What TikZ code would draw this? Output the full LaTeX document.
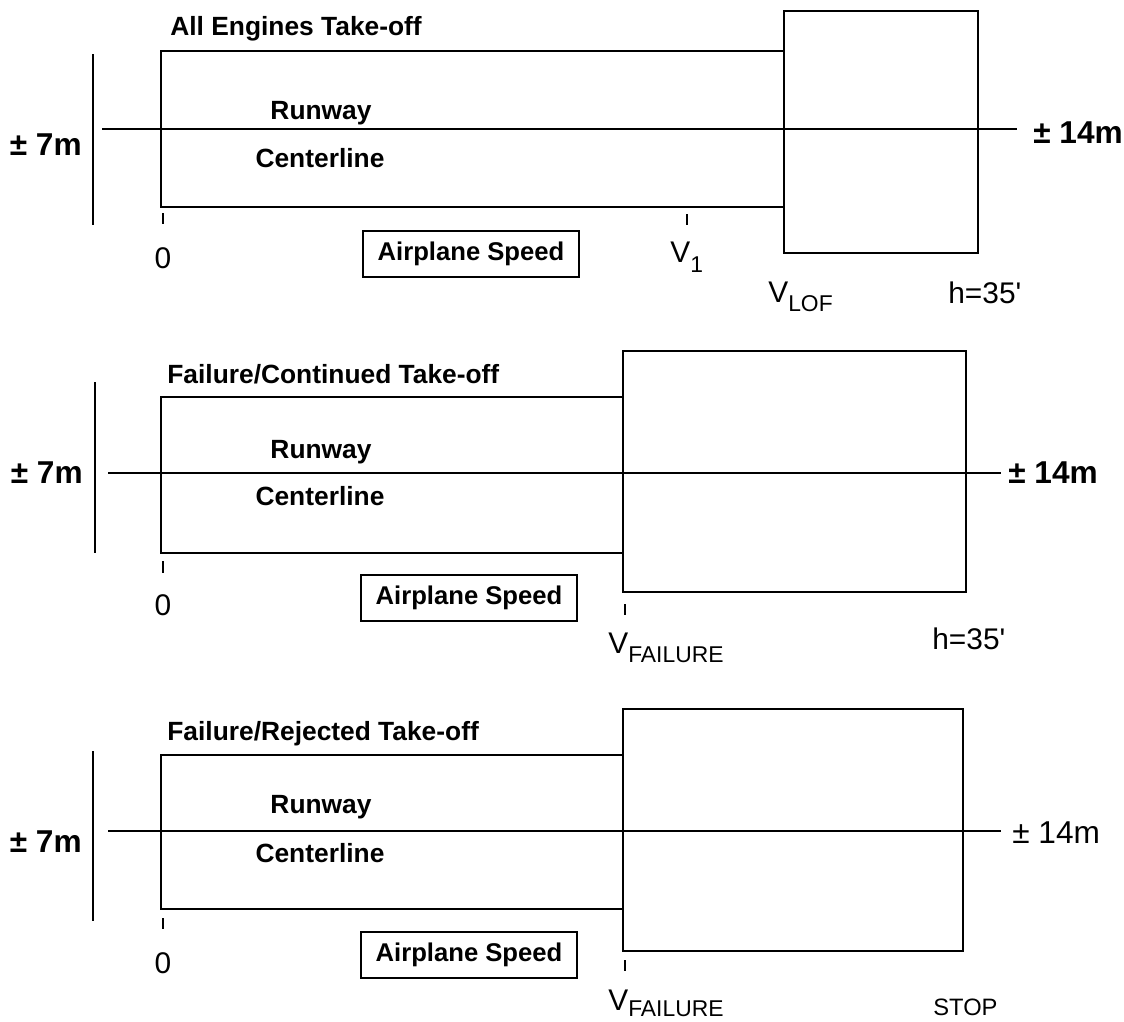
\documentclass[tikz,border=0pt]{standalone}
\usepackage{fontspec}
\setmainfont{Liberation Sans}[Ligatures=TeXOff]
\usetikzlibrary{positioning}
\newcommand{\Vsub}[2][5.5pt]{V\raisebox{-#1}{\fontsize{13}{13}\selectfont #2}}
\tikzset{
    lane/.style={line width=1.2pt, color=black},
    tick/.style={line width=1pt, color=black},
    title/.style={anchor=base west, inner sep=0pt, font=\bfseries\fontsize{15}{18}\selectfont},
    cline/.style={anchor=base, inner sep=0pt, font=\bfseries\fontsize{15}{18}\selectfont},
    tol/.style={inner sep=0pt, font=\bfseries\fontsize{18}{20}\selectfont},
    lbl/.style={inner sep=0pt, font=\fontsize{17}{20}\selectfont},
    speedbox/.style={draw, line width=1pt, minimum width=4.32cm, minimum height=0.92cm, inner sep=0pt, font=\bfseries\fontsize{14.6}{17}\selectfont},
}
\begin{document}
\begin{tikzpicture}[x=0.02cm, y=-0.02cm]
    \useasboundingbox (0,0) rectangle (1124,1021);

    % All engines
    \node[title] (title1) at (170,35) {All Engines Take-off};
    \draw[lane] (93,54) -- (93,225);
    \draw[lane] (784,51) -- (161,51) -- (161,207) -- (784,207);
    \draw[lane] (784,11) rectangle (978,253);
    \draw[lane] (102,129) -- (1017,129);
    \draw[tick] (163,213) -- (163,224);
    \draw[tick] (687,214) -- (687,225);
    \node[cline] (runway1) at (321,119) {Runway};
    \node[cline] (center1) at (320,167) {Centerline};
    \node[tol, anchor=base east] (half1) at (82,155) {± 7m};
    \node[tol, anchor=base west] (full1) at (1033,143) {± 14m};
    \node[lbl, anchor=base] (zero1) at (163,268) {0};
    \node[speedbox] (speed1) at (471,254) {Airplane Speed};
    \node[lbl, anchor=base west] (vone) at (670,262) {\Vsub[6pt]{1}};
    \node[lbl, anchor=base west] (vlof) at (768,302) {\Vsub{LOF}};
    \node[lbl, anchor=base west] (height1) at (948,303) {h=35'};

    % Failure, continued
    \node[title] (title2) at (167,383) {Failure/Continued Take-off};
    \draw[lane] (95,382) -- (95,553);
    \draw[lane] (623,397) -- (161,397) -- (161,553) -- (623,553);
    \draw[lane] (623,351) rectangle (966,592);
    \draw[lane] (108,473) -- (1001,473);
    \draw[tick] (163,561) -- (163,573);
    \draw[tick] (625,604) -- (625,615);
    \node[cline] (runway2) at (321,458) {Runway};
    \node[cline] (center2) at (320,505) {Centerline};
    \node[tol, anchor=base east] (half2) at (83,483) {± 7m};
    \node[tol, anchor=base west] (full2) at (1008,483) {± 14m};
    \node[lbl, anchor=base] (zero2) at (163,615) {0};
    \node[speedbox] (speed2) at (469,598) {Airplane Speed};
    \node[lbl, anchor=base west] (vfail2) at (608,653) {\Vsub{FAILURE}};
    \node[lbl, anchor=base west] (height2) at (932,649) {h=35'};

    % Failure, rejected
    \node[title] (title3) at (167,740) {Failure/Rejected Take-off};
    \draw[lane] (93,751) -- (93,921);
    \draw[lane] (623,755) -- (161,755) -- (161,909) -- (623,909);
    \draw[lane] (623,709) rectangle (963,951);
    \draw[lane] (108,831) -- (1001,831);
    \draw[tick] (163,918) -- (163,929);
    \draw[tick] (625,960) -- (625,971);
    \node[cline] (runway3) at (321,813) {Runway};
    \node[cline] (center3) at (320,862) {Centerline};
    \node[tol, anchor=base east] (half3) at (82,852) {± 7m};
    \node[tol, anchor=base west, font=\fontsize{18}{20}\selectfont] (full3) at (1012,843) {± 14m};
    \node[lbl, anchor=base] (zero3) at (163,973) {0};
    \node[speedbox] (speed3) at (469,955) {Airplane Speed};
    \node[lbl, anchor=base west] (vfail3) at (608,1010) {\Vsub[3.5pt]{FAILURE}};
    \node[lbl, anchor=base west, font=\fontsize{13.5}{16}\selectfont] (stop) at (933,1015) {STOP};
\end{tikzpicture}
\end{document}
